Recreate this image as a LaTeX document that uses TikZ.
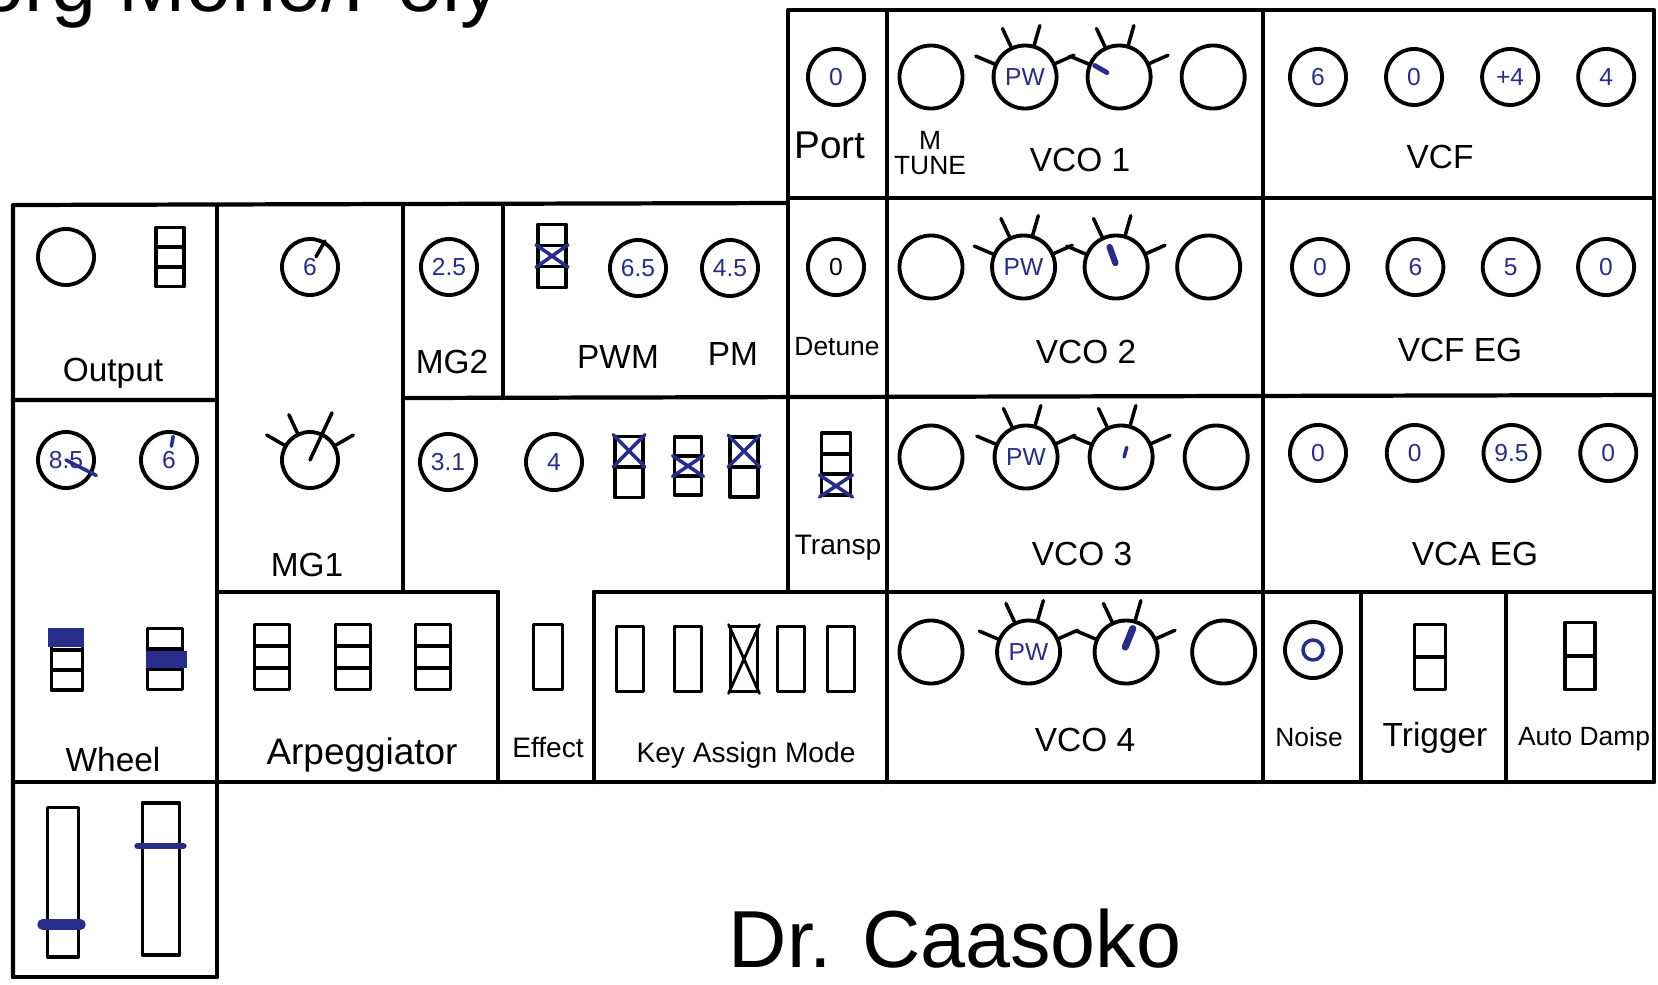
\documentclass[tikz,border=0pt]{standalone}
\usepackage{fontspec}
\setmainfont{Liberation Sans}
\usepackage{tikz}
\usetikzlibrary{positioning}
\usetikzlibrary{calc}
\definecolor{inkblue}{RGB}{40,45,140}

\begin{document}
\begin{tikzpicture}[x=0.01cm, y=-0.01cm, on grid, line cap=round, line join=round,
    panel/.style={line width=1.2pt},
    knob/.style={draw, circle, line width=1.1pt, minimum size=0.56cm, inner sep=0pt,
      text=inkblue, font=\fontsize{7}{7}\selectfont},
    bigknob/.style={knob, minimum size=0.63cm},
    ray/.style={line width=1pt},
    pen/.style={inkblue, line width=1pt},
    sw/.style={draw, line width=1.1pt, inner sep=0pt, minimum width=0.28cm, minimum height=0.6cm},
    cells/.style={path picture={
      \foreach \i in {1,...,#1}
        \draw[line width=1.1pt]
          ($(path picture bounding box.north west)!{\i/(#1+1)}!(path picture bounding box.south west)$) --
          ($(path picture bounding box.north east)!{\i/(#1+1)}!(path picture bounding box.south east)$);}},
    fader/.style={draw, line width=1.1pt, inner sep=0pt},
    lab/.style={inner sep=0pt, font=\fontsize{9.5}{10}\selectfont},
    smalllab/.style={inner sep=0pt, font=\fontsize{7.5}{7}\selectfont}]

  \useasboundingbox (0,0) rectangle (1658,984);
  \node[anchor=base west, inner sep=0pt, font=\fontsize{23}{23}\selectfont] (title) at (-75,11) {Korg Mono/Poly};

  \draw[panel] (788,592) -- (788,10) -- (1654,10) -- (1654,782);
  \draw[panel] (887,10) -- (887,782) (1263,10) -- (1263,782);
  \draw[panel] (788,198) -- (1654,198);
  \draw[panel] (13,977) -- (13,205) -- (788,203);
  \draw[panel] (217,205) -- (217,977) (13,977) -- (217,977);
  \draw[panel] (403,205) -- (403,592) (503,205) -- (503,398);
  \draw[panel] (13,400) -- (217,400) (403,398) -- (1654,395);
  \draw[panel] (217,592) -- (498,592) (594,592) -- (1654,592);
  \draw[panel] (498,592) -- (498,782) (594,592) -- (594,782);
  \draw[panel] (1361,592) -- (1361,782) (1506,592) -- (1506,782);
  \draw[panel] (13,782) -- (1654,782);

  % row 1
  \node[knob]    (port)   at (836,77)               {0};
  \node[bigknob] (vco1_a) at (931,77)               {};
  \node[bigknob] (vco1_b) [right=0.94cm of vco1_a] {PW};
  \node[bigknob] (vco1_c) [right=0.94cm of vco1_b] {};
  \node[bigknob] (vco1_d) [right=0.94cm of vco1_c] {};
  \node[knob]    (vcf_a)  at (1318,77)              {6};
  \node[knob]    (vcf_b)  [right=0.96cm of vcf_a]  {0};
  \node[knob]    (vcf_c)  [right=0.96cm of vcf_b]  {+4};
  \node[knob]    (vcf_d)  [right=0.96cm of vcf_c]  {4};

  % row 2
  \node[knob]    (out)    at (66,257)               {};
  \node[sw, cells=2, minimum height=0.59cm] (out_sw) at (170,257) {};
  \node[knob]    (mg1_a)  at (310,267)              {6};
  \node[knob]    (mg2)    at (449,267)              {2.5};
  \node[sw, cells=2, minimum height=0.63cm] (pwm_sw) at (552,256) {};
  \node[knob]    (pwm)    at (638,268)              {6.5};
  \node[knob]    (pm)     at (730,268)              {4.5};
  \node[knob, text=black] (detune) at (836,267)     {0};
  \node[bigknob] (vco2_a) at (931,267)              {};
  \node[bigknob] (vco2_b) [right=0.925cm of vco2_a] {PW};
  \node[bigknob] (vco2_c) [right=0.925cm of vco2_b] {};
  \node[bigknob] (vco2_d) [right=0.925cm of vco2_c] {};
  \node[knob]    (vcfeg_a) at (1320,267)            {0};
  \node[knob]    (vcfeg_b) [right=0.953cm of vcfeg_a] {6};
  \node[knob]    (vcfeg_c) [right=0.953cm of vcfeg_b] {5};
  \node[knob]    (vcfeg_d) [right=0.953cm of vcfeg_c] {0};

  % row 3
  \node[knob]    (k_85)   at (66,460)               {8.5};
  \node[knob]    (k_6)    at (169,460)              {6};
  \node[knob]    (mg1_b)  at (310,460)              {};
  \node[knob]    (k_31)   at (448,462)              {3.1};
  \node[knob]    (k_4)    at (554,462)              {4};
  \node[sw, cells=1, minimum height=0.61cm] (sw_a) at (629,467) {};
  \node[sw, cells=2, minimum height=0.58cm, minimum width=0.27cm] (sw_b) at (688,466) {};
  \node[sw, cells=1, minimum height=0.60cm] (sw_c) at (744,467) {};
  \node[sw, cells=2, minimum height=0.62cm, minimum width=0.29cm] (transp) at (836,464) {};
  \node[bigknob] (vco3_a) at (931,457)              {};
  \node[bigknob] (vco3_b) [right=0.95cm of vco3_a] {PW};
  \node[bigknob] (vco3_c) [right=0.95cm of vco3_b] {};
  \node[bigknob] (vco3_d) [right=0.95cm of vco3_c] {};
  \node[knob]    (vcaeg_a) at (1318,453)            {0};
  \node[knob]    (vcaeg_b) [right=0.967cm of vcaeg_a] {0};
  \node[knob]    (vcaeg_c) [right=0.967cm of vcaeg_b] {9.5};
  \node[knob]    (vcaeg_d) [right=0.967cm of vcaeg_c] {0};

  % row 4
  \node[sw, cells=2, minimum width=0.31cm] (wheel_l) at (67,660) {};
  \node[sw, cells=2, minimum width=0.35cm, minimum height=0.61cm] (wheel_r) at (165,659) {};
  \fill[inkblue] ([xshift=-0.02cm]wheel_l.north west) rectangle ($(wheel_l.north east)!0.3!(wheel_l.south east)$);
  \fill[inkblue] ($(wheel_r.north west)!0.37!(wheel_r.south west)$) rectangle ([xshift=0.03cm]$(wheel_r.north east)!0.64!(wheel_r.south east)$);
  \foreach \n/\x in {arp_a/272, arp_b/353, arp_c/433}
    \node[sw, cells=2, minimum width=0.35cm, minimum height=0.65cm] (\n) at (\x,657) {};
  \node[sw, minimum width=0.29cm, minimum height=0.65cm] (effect) at (548,657) {};
  \foreach \n/\x in {kam_a/630, kam_b/688, kam_c/744, kam_d/791, kam_e/841}
    \node[sw, minimum width=0.27cm, minimum height=0.65cm] (\n) at (\x,659) {};
  \node[bigknob] (vco4_a) at (931,652)              {};
  \node[bigknob] (vco4_b) [right=0.975cm of vco4_a] {PW};
  \node[bigknob] (vco4_c) [right=0.975cm of vco4_b] {};
  \node[bigknob] (vco4_d) [right=0.975cm of vco4_c] {};
  \node[knob]    (noise)  at (1313,650)             {};
  \node[circle, draw=inkblue, line width=1pt, minimum size=0.2cm, inner sep=0pt] (noise_dot) at (noise) {};
  \node[sw, cells=1, minimum width=0.31cm, minimum height=0.65cm] (trig) at (1430,657) {};
  \node[sw, cells=1, minimum width=0.30cm, minimum height=0.67cm] (damp) at (1580,656) {};

  % row 5
  \node[fader, minimum width=0.31cm, minimum height=1.49cm] (fader_l) at (63,882) {};
  \node[fader, minimum width=0.37cm, minimum height=1.52cm] (fader_r) at (161,879) {};
  \draw[inkblue, line width=3pt] ([xshift=-0.03cm, yshift=0.34cm]fader_l.south west) -- ([yshift=0.34cm]fader_l.south east);
  \draw[inkblue, line width=1.8pt] ([xshift=-0.03cm, yshift=-0.45cm]fader_r.north west) -- ([xshift=0.02cm, yshift=-0.45cm]fader_r.north east);

  % rays and pointers
  \foreach \k in {vco1_b,vco1_c,vco2_b,vco2_c,vco3_b,vco3_c,vco4_b,vco4_c}
    \foreach \a in {157,115,74,24}
      \draw[ray] (\k.\a) -- ++(\a:0.2cm);
  \foreach \a in {150,115,30}
    \draw[ray] (mg1_b.\a) -- ++(\a:0.2cm);
  \draw[ray] (mg1_b.center) -- ++(65:0.52cm);
  \draw[ray] (mg1_a.center) ++(60:0.12cm) -- (mg1_a.60);
  \draw[pen] (k_85.center) -- ++(-27:0.34cm);
  \draw[pen] (k_6.center) ++(80:0.14cm) -- ++(80:0.1cm);
  \draw[pen, line width=1.4pt] (vco1_c.center) ++(160:0.13cm) -- ++(150:0.14cm);
  \draw[pen, line width=1.8pt] (vco2_c.center) ++(100:0.04cm) -- ++(110:0.17cm);
  \draw[pen] (vco3_c.center) ++(0:0.03cm) -- ++(75:0.1cm);
  \draw[pen, line width=2pt] (vco4_c.center) ++(100:0.05cm) -- ++(68:0.2cm);

  % crossed switches
  \foreach \s/\p/\q in {pwm_sw/0.333/0.667, sw_a/0/0.5, sw_b/0.333/0.667, sw_c/0/0.5, transp/0.667/1}
    \draw[pen] ($(\s.north west)!\p!(\s.south west)$) -- ($(\s.north east)!\q!(\s.south east)$)
               ($(\s.north east)!\p!(\s.south east)$) -- ($(\s.north west)!\q!(\s.south west)$);
  \draw[line width=0.8pt] (kam_c.north west) -- (kam_c.south east) (kam_c.north east) -- (kam_c.south west);

  % labels
  \node[lab, font=\fontsize{11}{11}\selectfont] (l_port) at (830,145) {Port};
  \node[smalllab, align=center] (l_tune) at (930,153) {M\\TUNE};
  \node[lab] (l_vco1) at (1080,160) {VCO 1};
  \node[lab] (l_vcf) at (1440,157) {VCF};
  \node[lab] (l_out) at (113,373) {Output};
  \node[lab] (l_mg2) at (452,362) {MG2};
  \node[lab] (l_pwm) at (618,357) {PWM};
  \node[lab] (l_pm) at (733,354) {PM};
  \node[smalllab] (l_detune) at (837,347) {Detune};
  \node[lab] (l_vco2) at (1086,352) {VCO 2};
  \node[lab] (l_vcfeg) at (1460,350) {VCF EG};
  \node[lab] (l_mg1) at (307,565) {MG1};
  \node[smalllab, font=\fontsize{8}{8}\selectfont] (l_transp) at (838,548) {Transp};
  \node[lab] (l_vco3) at (1082,554) {VCO 3};
  \node[lab] (l_vcaeg) at (1475,554) {VCA EG};
  \node[lab] (l_wheel) at (113,760) {Wheel};
  \node[lab, font=\fontsize{10.5}{11}\selectfont] (l_arp) at (362,755) {Arpeggiator};
  \node[smalllab, font=\fontsize{8}{8}\selectfont] (l_effect) at (548,747) {Effect};
  \node[smalllab, font=\fontsize{8}{8}\selectfont] (l_kam) at (746,755) {Key Assign Mode};
  \node[lab] (l_vco4) at (1085,740) {VCO 4};
  \node[smalllab] (l_noise) at (1309,737) {Noise};
  \node[lab] (l_trig) at (1435,738) {Trigger};
  \node[smalllab] (l_damp) at (1584,739) {Auto Damp};
  \node[anchor=base, inner sep=0pt, font=\fontsize{23}{23}\selectfont] (sign) at (955,967) {Dr. Caasoko};
\end{tikzpicture}
\end{document}
